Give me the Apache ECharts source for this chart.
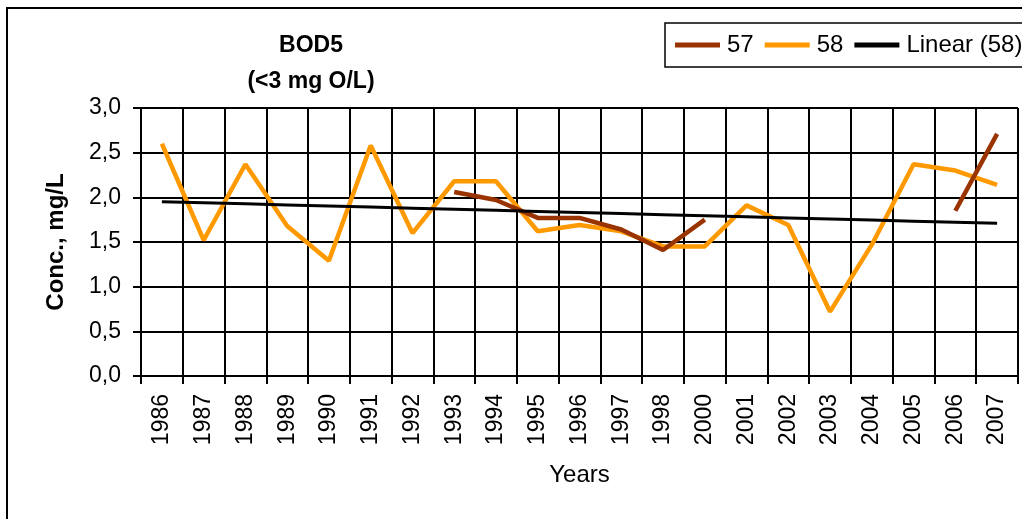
<!DOCTYPE html>
<html>
<head>
<meta charset="utf-8">
<script src="https://cdn.jsdelivr.net/npm/echarts@6/dist/echarts.min.js"></script>
<style>
html,body{margin:0;padding:0;background:#fff;}
#c{width:1022px;height:519px;}
</style>
</head>
<body>
<div id="c"></div>
<script>
var years = ['1986','1987','1988','1989','1990','1991','1992','1993','1994','1995','1996','1997','1998','2000','2001','2002','2003','2004','2005','2006','2007'];
var s57 = [null,null,null,null,null,null,null,2.06,1.97,1.77,1.77,1.64,1.41,1.75,null,null,null,null,null,1.85,2.71];
var s58 = [2.60,1.52,2.37,1.68,1.29,2.58,1.60,2.18,2.18,1.62,1.69,1.62,1.45,1.45,1.91,1.69,0.72,1.47,2.37,2.30,2.14];
var titleLines = ['BOD5','(<3 mg O/L)'];

// Linear trend of series 58 (least squares on category index)
var n = s58.length, sx = 0, sy = 0, sxx = 0, sxy = 0;
for (var i = 0; i < n; i++) { sx += i; sy += s58[i]; sxx += i*i; sxy += i*s58[i]; }
var slope = (n*sxy - sx*sy) / (n*sxx - sx*sx);
var icpt = (sy - slope*sx) / n;
var trend = years.map(function(_, i){ return +(icpt + slope*i).toFixed(4); });

var FONT = '"Liberation Sans", Arial, sans-serif';
var chart = echarts.init(document.getElementById('c'), null, {renderer:'canvas'});
chart.setOption({
  animation: false,
  backgroundColor: '#fff',
  textStyle: {fontFamily: FONT, color: '#000'},
  title: {
    text: titleLines.join('\n'),
    left: 311, top: 28, textAlign: 'center', padding: 0,
    textStyle: {fontFamily: FONT, fontWeight: 'bold', fontSize: 23, lineHeight: 36, color: '#000', align: 'center'}
  },
  legend: {
    data: ['57','58','Linear (58)'],
    left: 665, top: 23, width: 460,
    padding: [10, 30, 10, 10],
    borderColor: '#000', borderWidth: 1.5,
    icon: 'rect', itemWidth: 45, itemHeight: 5, itemGap: 11,
    textStyle: {fontFamily: FONT, fontSize: 24, color: '#000', padding: [0,0,0,2]}
  },
  graphic: [{
    type: 'rect', silent: true, z: -1,
    shape: {x: 7, y: 8, width: 1040, height: 540},
    style: {fill: 'none', stroke: '#000', lineWidth: 2}
  }],
  grid: {left: 141, right: 4, top: 108, bottom: 143, containLabel: false},
  xAxis: {
    type: 'category', data: years, boundaryGap: true,
    name: 'Years', nameLocation: 'middle', nameGap: 87,
    nameTextStyle: {fontFamily: FONT, fontSize: 24, color: '#000'},
    axisLine: {lineStyle: {color: '#000', width: 2}},
    axisTick: {show: true, interval: 0, length: 8, lineStyle: {color: '#000', width: 2}},
    axisLabel: {interval: 0, rotate: 90, margin: 18, fontFamily: FONT, fontSize: 23, color: '#000'},
    splitLine: {show: true, interval: 0, lineStyle: {color: '#000', width: 2}}
  },
  yAxis: {
    type: 'value', min: 0, max: 3, interval: 0.5,
    name: 'Conc., mg/L', nameLocation: 'middle', nameGap: 73,
    nameTextStyle: {fontFamily: FONT, fontSize: 24, fontWeight: 'bold', color: '#000'},
    axisLine: {show: true, lineStyle: {color: '#000', width: 2}},
    axisTick: {show: true, length: 8, lineStyle: {color: '#000', width: 2}},
    axisLabel: {margin: 20, fontFamily: FONT, fontSize: 23, color: '#000',
      formatter: function(v){ return v.toFixed(1).replace('.', ','); }},
    splitLine: {show: true, lineStyle: {color: '#000', width: 2}}
  },
  series: [
    {name: '57', type: 'line', data: s57, color: '#993300', symbol: 'none', connectNulls: false,
     lineStyle: {width: 4.5, color: '#993300'}, z: 3},
    {name: '58', type: 'line', data: s58, color: '#FF9900', symbol: 'none',
     lineStyle: {width: 4.5, color: '#FF9900'}, z: 2},
    {name: 'Linear (58)', type: 'line', data: trend, color: '#000', symbol: 'none',
     lineStyle: {width: 3, color: '#000'}, z: 4}
  ]
});
</script>
</body>
</html>
